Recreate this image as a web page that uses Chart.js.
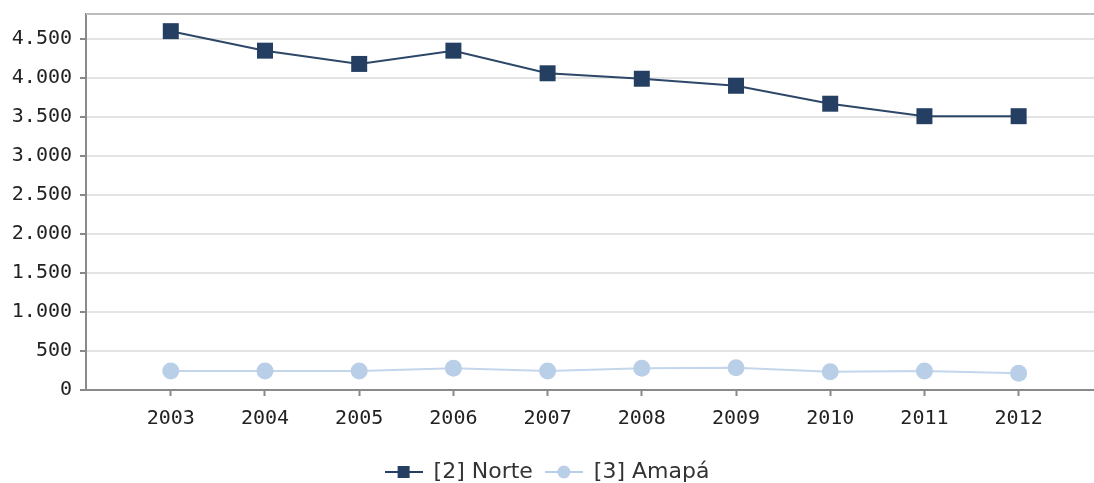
<!DOCTYPE html>
<html>
<head>
<meta charset="utf-8">
<script src="https://cdn.jsdelivr.net/npm/chart.js@4/dist/chart.umd.min.js"></script>
<style>
  body { margin: 0; background: #fff; }
  #wrap { width: 1094px; height: 483px; }
</style>
</head>
<body>
<div id="wrap"><canvas id="chart"></canvas></div>
<script>
// data
const years = [2003, 2004, 2005, 2006, 2007, 2008, 2009, 2010, 2011, 2012];
const norte = [4600, 4350, 4180, 4350, 4060, 3990, 3900, 3670, 3510, 3510];
const amapa = [245, 245, 245, 280, 245, 280, 285, 235, 245, 215];
const seriesNames = ['[2] Norte', '[3] Amapá'];
const yTicks = [0, 500, 1000, 1500, 2000, 2500, 3000, 3500, 4000, 4500];

const navy = '#243f62';
const lightBlue = '#b9cee7';

function points(values) {
    return years.map((y, i) => ({ x: y, y: values[i] }));
}

function formatNum(v) {
    return String(v).replace(/\B(?=(\d{3})+(?!\d))/g, '.');
}

// legend markers: little line with the point on it
function legendMarker(color, shape) {
    var c = document.createElement('canvas');
    c.width = 38;
    c.height = 14;
    var g = c.getContext('2d');
    g.strokeStyle = color;
    g.lineWidth = 2;
    g.beginPath();
    g.moveTo(0, 7);
    g.lineTo(38, 7);
    g.stroke();
    g.fillStyle = color;
    if (shape === 'rect') {
        g.fillRect(13, 1, 12, 12);
    } else {
        g.beginPath();
        g.arc(19, 7, 6.5, 0, Math.PI * 2);
        g.fill();
    }
    return c;
}

const topBorder = {
    id: 'topBorder',
    afterDraw(chart) {
        var a = chart.chartArea, ctx = chart.ctx;
        ctx.save();
        ctx.strokeStyle = '#bdbdbd';
        ctx.lineWidth = 2;
        ctx.beginPath();
        ctx.moveTo(a.left, a.top);
        ctx.lineTo(a.right, a.top);
        ctx.stroke();
        ctx.restore();
    }
};

const markers = [legendMarker(navy, 'rect'), legendMarker(lightBlue, 'circle')];

new Chart(document.getElementById('chart'), {
    type: 'line',
    data: {
        datasets: [{
            label: seriesNames[0],
            data: points(norte),
            borderColor: '#2d4768',
            backgroundColor: navy,
            borderWidth: 2,
            pointStyle: 'rect',
            pointRadius: 11.3,
            pointBackgroundColor: navy,
            pointBorderColor: navy,
            pointBorderWidth: 0,
            tension: 0
        }, {
            label: seriesNames[1],
            data: points(amapa),
            borderColor: '#c4d6ec',
            backgroundColor: lightBlue,
            borderWidth: 2,
            pointStyle: 'circle',
            pointRadius: 8.5,
            pointBackgroundColor: lightBlue,
            pointBorderColor: lightBlue,
            pointBorderWidth: 0,
            tension: 0
        }]
    },
    options: {
        responsive: true,
        maintainAspectRatio: false,
        animation: false,
        layout: { autoPadding: false, padding: { top: 14, right: 0, left: 0, bottom: -10 } },
        plugins: {
            tooltip: { enabled: false },
            legend: {
                position: 'bottom',
                labels: {
                    usePointStyle: true,
                    pointStyleWidth: 38,
                    padding: 12,
                    color: '#333',
                    font: { family: 'DejaVu Sans', size: 22 },
                    generateLabels(chart) {
                        return chart.data.datasets.map((ds, i) => ({
                            text: ds.label,
                            pointStyle: markers[i],
                            fillStyle: ds.backgroundColor,
                            strokeStyle: ds.backgroundColor,
                            lineWidth: 0,
                            fontColor: '#333',
                            datasetIndex: i
                        }));
                    }
                }
            }
        },
        scales: {
            x: {
                type: 'linear',
                min: 2002.1,
                max: 2012.8,
                afterBuildTicks(scale) {
                    scale.ticks = years.map(v => ({ value: v }));
                },
                afterFit(scale) {
                    scale.height += 7;
                    scale.paddingLeft = 0;
                    scale.paddingRight = 0;
                },
                grid: { drawOnChartArea: false, tickLength: 6, tickColor: '#888', tickWidth: 2 },
                border: { color: '#8a8a8a', width: 2 },
                ticks: {
                    padding: 11,
                    color: '#222',
                    font: { family: 'DejaVu Sans Mono', size: 20 },
                    callback: v => String(v)
                }
            },
            y: {
                min: 0,
                max: 4820,
                afterBuildTicks(scale) {
                    scale.ticks = yTicks.map(v => ({ value: v }));
                },
                afterFit(scale) {
                    scale.width = 86;
                    scale.paddingTop = 0;
                    scale.paddingBottom = 0;
                },
                grid: { color: '#e4e4e4', lineWidth: 2, tickLength: 6, tickColor: '#888', tickWidth: 2 },
                border: { color: '#8a8a8a', width: 2 },
                ticks: {
                    padding: 8,
                    color: '#222',
                    font: { family: 'DejaVu Sans Mono', size: 20 },
                    callback: v => formatNum(v)
                }
            }
        }
    },
    plugins: [topBorder]
});
</script>
</body>
</html>
